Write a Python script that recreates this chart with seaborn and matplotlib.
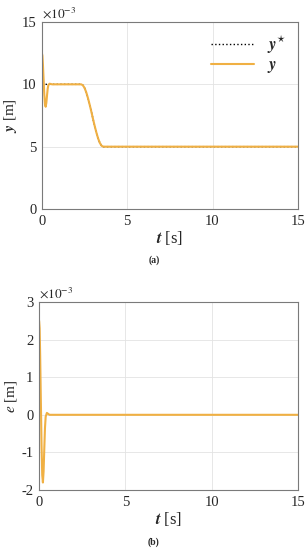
import numpy as np
import pandas as pd
import matplotlib
matplotlib.use("Agg")
import matplotlib.pyplot as plt
import seaborn as sns

# time samples [s] and signals in units of 1e-3 m
t = [0, 0.03, 0.06, 0.1, 0.14, 0.18, 0.22, 0.26, 0.3, 0.34, 0.38, 0.45, 0.6, 1.0,
     2.0, 2.3, 2.4, 2.5, 2.6, 2.7, 2.8, 2.9, 3.0, 3.1, 3.2, 3.3, 3.4, 3.5, 3.6,
     4.0, 8.0, 15.0]
y_ref = [10, 10, 10, 10, 10, 10, 10, 10, 10, 10, 10, 10, 10, 10,
         10, 10, 9.93, 9.71, 9.36, 8.9, 8.37, 7.8, 7.2, 6.63, 6.1, 5.64, 5.29, 5.07, 5.0,
         5.0, 5.0, 5.0]
y_out = [12.5, 12.3, 11.6, 10.4, 9.2, 8.4, 8.2, 8.5, 9.1, 9.65, 9.95, 10.05, 10.0, 10.0,
         10.0, 10.0, 9.93, 9.71, 9.36, 8.9, 8.37, 7.8, 7.2, 6.63, 6.1, 5.64, 5.29, 5.07, 5.0,
         5.0, 5.0, 5.0]
err = [2.5, 2.3, 1.6, 0.4, -0.8, -1.6, -1.8, -1.5, -0.9, -0.35, -0.05, 0.05, 0.0, 0.0,
       0.0, 0.0, 0.0, 0.0, 0.0, 0.0, 0.0, 0.0, 0.0, 0.0, 0.0, 0.0, 0.0, 0.0, 0.0,
       0.0, 0.0, 0.0]

x_ticks = [0, 5, 10, 15]
y_ticks_a = [0, 5, 10, 15]
y_ticks_b = [-2, -1, 0, 1, 2, 3]

df = pd.DataFrame({"t": t, "yref": y_ref, "y": y_out, "e": err})

sns.set_theme(style="whitegrid")
plt.rcParams["font.family"] = ["Liberation Serif", "DejaVu Serif"]
plt.rcParams["mathtext.fontset"] = "stix"
plt.rcParams["axes.unicode_minus"] = False

orange = "#F0B043"
fig = plt.figure(figsize=(3.08, 5.5), dpi=100)
ax1 = fig.add_axes([0.136, 0.62, 0.831, 0.34])
ax2 = fig.add_axes([0.127, 0.109, 0.840, 0.342])

sns.lineplot(data=df, x="t", y="yref", ax=ax1, color="black", linestyle=":",
             linewidth=1.0, label=r"$\boldsymbol{y}^{\star}$")
sns.lineplot(data=df, x="t", y="y", ax=ax1, color=orange, linewidth=1.5,
             label=r"$\boldsymbol{y}$")
sns.lineplot(data=df, x="t", y="e", ax=ax2, color=orange, linewidth=1.5)

for ax, yt in [(ax1, y_ticks_a), (ax2, y_ticks_b)]:
    ax.set_facecolor("white")
    ax.set_xlim(0, 15)
    ax.set_ylim(yt[0], yt[-1])
    ax.set_xticks(x_ticks)
    ax.set_yticks(yt)
    ax.grid(True, color="#e3e3e3", linewidth=0.6)
    for s in ax.spines.values():
        s.set_color("#7a7a7a")
        s.set_linewidth(0.8)
    ax.tick_params(direction="in", length=3, width=0.6, colors="#7a7a7a",
                   labelcolor="#262626", labelsize=10.5, pad=4)
    ax.set_xlabel(r"$\boldsymbol{t}$ [s]", fontsize=12, labelpad=1)
    ax.text(0.0, 1.005, r"$\times10^{-3}$", transform=ax.transAxes,
            fontsize=9.5, va="bottom", ha="left", color="#262626")

ax1.set_ylabel(r"$\boldsymbol{y}$ [m]", fontsize=11, labelpad=2)
ax2.set_ylabel(r"$e$ [m]", fontsize=11, labelpad=2)

leg = ax1.legend(loc="upper right", frameon=False, fontsize=12,
                 handlelength=2.6, borderaxespad=0.3, labelspacing=0.1)

fig.text(0.5, 0.527, "(a)", ha="center", va="center", fontsize=7, fontweight="bold")
fig.text(0.5, 0.015, "(b)", ha="center", va="center", fontsize=7, fontweight="bold")

fig.savefig("out.png", dpi=100)
